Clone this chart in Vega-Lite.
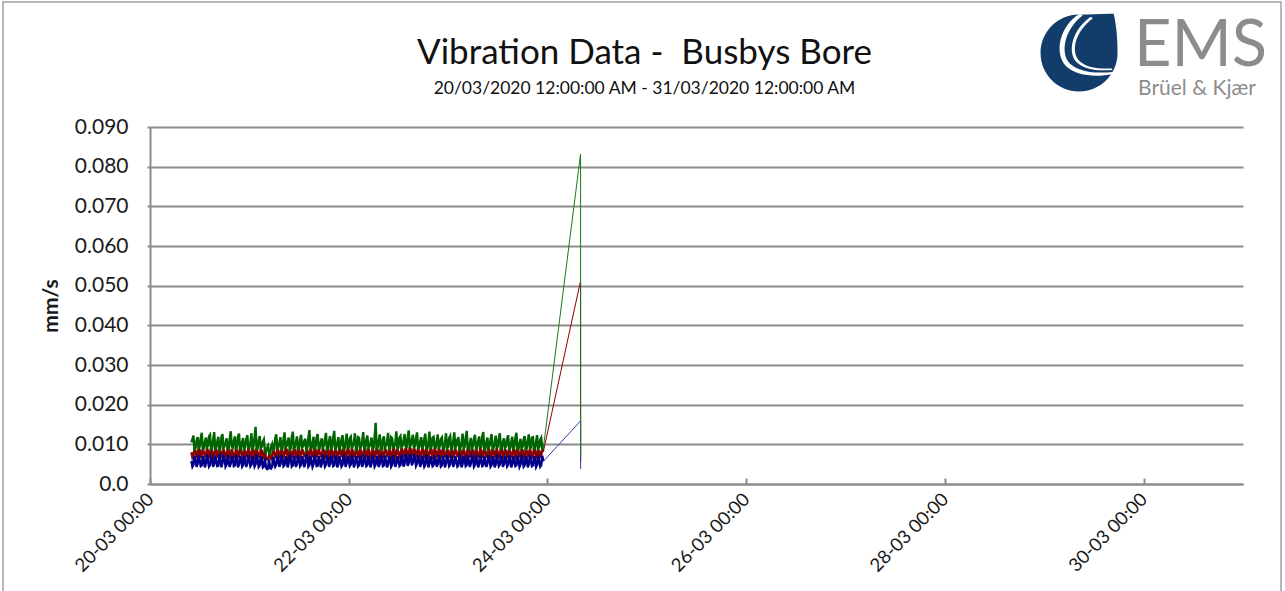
{
  "$schema": "https://vega.github.io/schema/vega-lite/v6.json",
  "width": 1093,
  "height": 357,
  "autosize": {"type": "none"},
  "padding": {"left": 150, "top": 127, "right": 42, "bottom": 107},
  "background": "white",
  "config": {
    "view": {"stroke": null},
    "font": "Lato",
    "axis": {"labelFont": "Lato", "titleFont": "Lato", "labelColor": "#1a1a1a", "titleColor": "#1a1a1a"},
    "axisY": {"labelFontSize": 21, "labelPadding": 19, "titleFontSize": 21, "titleFontWeight": "bold", "titlePadding": 13, "grid": true, "gridColor": "#8c8c8c", "gridWidth": 2, "domainColor": "#8c8c8c", "domainWidth": 2, "tickColor": "#8c8c8c", "tickWidth": 2, "tickSize": 3},
    "axisX": {"grid": false, "labelAngle": -45, "labelAlign": "right", "labelBaseline": "middle", "labelFontSize": 18.5, "labelPadding": 18, "domainColor": "#8c8c8c", "domainWidth": 2, "tickColor": "#8c8c8c", "tickWidth": 2, "tickSize": -6}
  },
  "title": {
    "text": "Vibration Data - \u00a0Busbys Bore",
    "subtitle": "20/03/2020 12:00:00 AM - 31/03/2020 12:00:00 AM",
    "font": "Lato",
    "fontSize": 35,
    "fontWeight": "normal",
    "color": "#111111",
    "subtitleFont": "Lato",
    "subtitleFontSize": 17.5,
    "subtitleColor": "#111111",
    "subtitlePadding": 9,
    "anchor": "middle",
    "frame": "group",
    "dx": -52,
    "offset": -96
  },
  "datasets": {
    "vib": [
      {"t":"2020-03-20T10:00","g":0.0105,"r":0.0080,"b":0.0058},
      {"t":"2020-03-20T10:15","g":0.0113,"r":0.0067,"b":0.0044},
      {"t":"2020-03-20T10:30","g":0.0122,"r":0.0072,"b":0.0049},
      {"t":"2020-03-20T10:45","g":0.0087,"r":0.0089,"b":0.0071},
      {"t":"2020-03-20T11:00","g":0.0091,"r":0.0084,"b":0.0062},
      {"t":"2020-03-20T11:15","g":0.0109,"r":0.0069,"b":0.0043},
      {"t":"2020-03-20T11:30","g":0.0118,"r":0.0070,"b":0.0051},
      {"t":"2020-03-20T11:45","g":0.0091,"r":0.0091,"b":0.0073},
      {"t":"2020-03-20T12:00","g":0.0094,"r":0.0086,"b":0.0060},
      {"t":"2020-03-20T12:15","g":0.0116,"r":0.0066,"b":0.0045},
      {"t":"2020-03-20T12:30","g":0.0129,"r":0.0074,"b":0.0047},
      {"t":"2020-03-20T12:45","g":0.0089,"r":0.0088,"b":0.0070},
      {"t":"2020-03-20T13:00","g":0.0090,"r":0.0081,"b":0.0063},
      {"t":"2020-03-20T13:15","g":0.0105,"r":0.0070,"b":0.0042},
      {"t":"2020-03-20T13:30","g":0.0117,"r":0.0069,"b":0.0052},
      {"t":"2020-03-20T13:45","g":0.0093,"r":0.0090,"b":0.0074},
      {"t":"2020-03-20T14:00","g":0.0096,"r":0.0085,"b":0.0059},
      {"t":"2020-03-20T14:15","g":0.0120,"r":0.0068,"b":0.0044},
      {"t":"2020-03-20T14:30","g":0.0124,"r":0.0073,"b":0.0048},
      {"t":"2020-03-20T14:45","g":0.0088,"r":0.0092,"b":0.0069},
      {"t":"2020-03-20T15:00","g":0.0089,"r":0.0082,"b":0.0064},
      {"t":"2020-03-20T15:15","g":0.0111,"r":0.0067,"b":0.0043},
      {"t":"2020-03-20T15:30","g":0.0131,"r":0.0071,"b":0.0050},
      {"t":"2020-03-20T15:45","g":0.0090,"r":0.0089,"b":0.0072},
      {"t":"2020-03-20T16:00","g":0.0093,"r":0.0087,"b":0.0058},
      {"t":"2020-03-20T16:15","g":0.0107,"r":0.0069,"b":0.0045},
      {"t":"2020-03-20T16:30","g":0.0119,"r":0.0068,"b":0.0046},
      {"t":"2020-03-20T16:45","g":0.0086,"r":0.0090,"b":0.0075},
      {"t":"2020-03-20T17:00","g":0.0090,"r":0.0083,"b":0.0061},
      {"t":"2020-03-20T17:15","g":0.0118,"r":0.0066,"b":0.0042},
      {"t":"2020-03-20T17:30","g":0.0126,"r":0.0075,"b":0.0053},
      {"t":"2020-03-20T17:45","g":0.0092,"r":0.0088,"b":0.0070},
      {"t":"2020-03-20T18:00","g":0.0095,"r":0.0080,"b":0.0065},
      {"t":"2020-03-20T18:15","g":0.0104,"r":0.0070,"b":0.0044},
      {"t":"2020-03-20T18:30","g":0.0115,"r":0.0070,"b":0.0049},
      {"t":"2020-03-20T18:45","g":0.0089,"r":0.0091,"b":0.0073},
      {"t":"2020-03-20T19:00","g":0.0088,"r":0.0085,"b":0.0057},
      {"t":"2020-03-20T19:15","g":0.0114,"r":0.0068,"b":0.0043},
      {"t":"2020-03-20T19:30","g":0.0133,"r":0.0072,"b":0.0051},
      {"t":"2020-03-20T19:45","g":0.0094,"r":0.0089,"b":0.0071},
      {"t":"2020-03-20T20:00","g":0.0092,"r":0.0079,"b":0.0062},
      {"t":"2020-03-20T20:15","g":0.0108,"r":0.0067,"b":0.0045},
      {"t":"2020-03-20T20:30","g":0.0120,"r":0.0069,"b":0.0047},
      {"t":"2020-03-20T20:45","g":0.0087,"r":0.0090,"b":0.0074},
      {"t":"2020-03-20T21:00","g":0.0094,"r":0.0084,"b":0.0060},
      {"t":"2020-03-20T21:15","g":0.0119,"r":0.0069,"b":0.0042},
      {"t":"2020-03-20T21:30","g":0.0127,"r":0.0073,"b":0.0050},
      {"t":"2020-03-20T21:45","g":0.0090,"r":0.0092,"b":0.0070},
      {"t":"2020-03-20T22:00","g":0.0089,"r":0.0086,"b":0.0063},
      {"t":"2020-03-20T22:15","g":0.0106,"r":0.0066,"b":0.0044},
      {"t":"2020-03-20T22:30","g":0.0116,"r":0.0070,"b":0.0048},
      {"t":"2020-03-20T22:45","g":0.0088,"r":0.0088,"b":0.0072},
      {"t":"2020-03-20T23:00","g":0.0093,"r":0.0081,"b":0.0059},
      {"t":"2020-03-20T23:15","g":0.0112,"r":0.0070,"b":0.0043},
      {"t":"2020-03-20T23:30","g":0.0123,"r":0.0074,"b":0.0052},
      {"t":"2020-03-20T23:45","g":0.0092,"r":0.0090,"b":0.0073},
      {"t":"2020-03-21T00:00","g":0.0091,"r":0.0083,"b":0.0061},
      {"t":"2020-03-21T00:15","g":0.0103,"r":0.0068,"b":0.0045},
      {"t":"2020-03-21T00:30","g":0.0128,"r":0.0071,"b":0.0049},
      {"t":"2020-03-21T00:45","g":0.0086,"r":0.0089,"b":0.0071},
      {"t":"2020-03-21T01:00","g":0.0095,"r":0.0086,"b":0.0058},
      {"t":"2020-03-21T01:15","g":0.0117,"r":0.0067,"b":0.0044},
      {"t":"2020-03-21T01:30","g":0.0144,"r":0.0072,"b":0.0050},
      {"t":"2020-03-21T01:45","g":0.0089,"r":0.0091,"b":0.0074},
      {"t":"2020-03-21T02:00","g":0.0090,"r":0.0080,"b":0.0062},
      {"t":"2020-03-21T02:15","g":0.0109,"r":0.0069,"b":0.0043},
      {"t":"2020-03-21T02:30","g":0.0121,"r":0.0068,"b":0.0047},
      {"t":"2020-03-21T02:45","g":0.0091,"r":0.0088,"b":0.0070},
      {"t":"2020-03-21T03:00","g":0.0094,"r":0.0084,"b":0.0059},
      {"t":"2020-03-21T03:15","g":0.0106,"r":0.0066,"b":0.0042},
      {"t":"2020-03-21T03:30","g":0.0112,"r":0.0070,"b":0.0045},
      {"t":"2020-03-21T03:45","g":0.0085,"r":0.0086,"b":0.0066},
      {"t":"2020-03-21T04:00","g":0.0080,"r":0.0066,"b":0.0042},
      {"t":"2020-03-21T04:15","g":0.0090,"r":0.0062,"b":0.0038},
      {"t":"2020-03-21T04:30","g":0.0096,"r":0.0063,"b":0.0039},
      {"t":"2020-03-21T04:45","g":0.0078,"r":0.0072,"b":0.0062},
      {"t":"2020-03-21T05:00","g":0.0076,"r":0.0068,"b":0.0041},
      {"t":"2020-03-21T05:15","g":0.0094,"r":0.0064,"b":0.0039},
      {"t":"2020-03-21T05:30","g":0.0101,"r":0.0072,"b":0.0044},
      {"t":"2020-03-21T05:45","g":0.0087,"r":0.0087,"b":0.0069},
      {"t":"2020-03-21T06:00","g":0.0088,"r":0.0080,"b":0.0055},
      {"t":"2020-03-21T06:15","g":0.0115,"r":0.0068,"b":0.0044},
      {"t":"2020-03-21T06:30","g":0.0125,"r":0.0071,"b":0.0049},
      {"t":"2020-03-21T06:45","g":0.0090,"r":0.0090,"b":0.0072},
      {"t":"2020-03-21T07:00","g":0.0092,"r":0.0085,"b":0.0061},
      {"t":"2020-03-21T07:15","g":0.0104,"r":0.0067,"b":0.0043},
      {"t":"2020-03-21T07:30","g":0.0118,"r":0.0069,"b":0.0050},
      {"t":"2020-03-21T07:45","g":0.0088,"r":0.0089,"b":0.0073},
      {"t":"2020-03-21T08:00","g":0.0089,"r":0.0082,"b":0.0063},
      {"t":"2020-03-21T08:15","g":0.0113,"r":0.0070,"b":0.0045},
      {"t":"2020-03-21T08:30","g":0.0130,"r":0.0074,"b":0.0048},
      {"t":"2020-03-21T08:45","g":0.0092,"r":0.0091,"b":0.0070},
      {"t":"2020-03-21T09:00","g":0.0096,"r":0.0087,"b":0.0060},
      {"t":"2020-03-21T09:15","g":0.0107,"r":0.0066,"b":0.0042},
      {"t":"2020-03-21T09:30","g":0.0117,"r":0.0070,"b":0.0052},
      {"t":"2020-03-21T09:45","g":0.0087,"r":0.0088,"b":0.0074},
      {"t":"2020-03-21T10:00","g":0.0090,"r":0.0081,"b":0.0064},
      {"t":"2020-03-21T10:15","g":0.0119,"r":0.0069,"b":0.0044},
      {"t":"2020-03-21T10:30","g":0.0132,"r":0.0073,"b":0.0047},
      {"t":"2020-03-21T10:45","g":0.0090,"r":0.0090,"b":0.0071},
      {"t":"2020-03-21T11:00","g":0.0093,"r":0.0086,"b":0.0058},
      {"t":"2020-03-21T11:15","g":0.0105,"r":0.0067,"b":0.0043},
      {"t":"2020-03-21T11:30","g":0.0120,"r":0.0068,"b":0.0051},
      {"t":"2020-03-21T11:45","g":0.0089,"r":0.0092,"b":0.0072},
      {"t":"2020-03-21T12:00","g":0.0088,"r":0.0083,"b":0.0062},
      {"t":"2020-03-21T12:15","g":0.0111,"r":0.0068,"b":0.0045},
      {"t":"2020-03-21T12:30","g":0.0124,"r":0.0075,"b":0.0049},
      {"t":"2020-03-21T12:45","g":0.0093,"r":0.0089,"b":0.0070},
      {"t":"2020-03-21T13:00","g":0.0095,"r":0.0080,"b":0.0060},
      {"t":"2020-03-21T13:15","g":0.0108,"r":0.0070,"b":0.0042},
      {"t":"2020-03-21T13:30","g":0.0114,"r":0.0071,"b":0.0053},
      {"t":"2020-03-21T13:45","g":0.0086,"r":0.0088,"b":0.0075},
      {"t":"2020-03-21T14:00","g":0.0091,"r":0.0085,"b":0.0065},
      {"t":"2020-03-21T14:15","g":0.0116,"r":0.0066,"b":0.0044},
      {"t":"2020-03-21T14:30","g":0.0136,"r":0.0072,"b":0.0048},
      {"t":"2020-03-21T14:45","g":0.0091,"r":0.0090,"b":0.0071},
      {"t":"2020-03-21T15:00","g":0.0089,"r":0.0082,"b":0.0059},
      {"t":"2020-03-21T15:15","g":0.0103,"r":0.0069,"b":0.0043},
      {"t":"2020-03-21T15:30","g":0.0119,"r":0.0069,"b":0.0050},
      {"t":"2020-03-21T15:45","g":0.0088,"r":0.0091,"b":0.0073},
      {"t":"2020-03-21T16:00","g":0.0094,"r":0.0087,"b":0.0063},
      {"t":"2020-03-21T16:15","g":0.0118,"r":0.0067,"b":0.0045},
      {"t":"2020-03-21T16:30","g":0.0126,"r":0.0074,"b":0.0046},
      {"t":"2020-03-21T16:45","g":0.0090,"r":0.0088,"b":0.0070},
      {"t":"2020-03-21T17:00","g":0.0090,"r":0.0080,"b":0.0061},
      {"t":"2020-03-21T17:15","g":0.0106,"r":0.0070,"b":0.0042},
      {"t":"2020-03-21T17:30","g":0.0115,"r":0.0070,"b":0.0052},
      {"t":"2020-03-21T17:45","g":0.0092,"r":0.0090,"b":0.0074},
      {"t":"2020-03-21T18:00","g":0.0096,"r":0.0084,"b":0.0058},
      {"t":"2020-03-21T18:15","g":0.0112,"r":0.0068,"b":0.0044},
      {"t":"2020-03-21T18:30","g":0.0129,"r":0.0073,"b":0.0049},
      {"t":"2020-03-21T18:45","g":0.0087,"r":0.0089,"b":0.0072},
      {"t":"2020-03-21T19:00","g":0.0088,"r":0.0086,"b":0.0064},
      {"t":"2020-03-21T19:15","g":0.0109,"r":0.0066,"b":0.0043},
      {"t":"2020-03-21T19:30","g":0.0121,"r":0.0068,"b":0.0051},
      {"t":"2020-03-21T19:45","g":0.0091,"r":0.0092,"b":0.0071},
      {"t":"2020-03-21T20:00","g":0.0093,"r":0.0081,"b":0.0060},
      {"t":"2020-03-21T20:15","g":0.0117,"r":0.0069,"b":0.0045},
      {"t":"2020-03-21T20:30","g":0.0134,"r":0.0075,"b":0.0047},
      {"t":"2020-03-21T20:45","g":0.0089,"r":0.0088,"b":0.0073},
      {"t":"2020-03-21T21:00","g":0.0091,"r":0.0083,"b":0.0062},
      {"t":"2020-03-21T21:15","g":0.0104,"r":0.0067,"b":0.0042},
      {"t":"2020-03-21T21:30","g":0.0118,"r":0.0071,"b":0.0050},
      {"t":"2020-03-21T21:45","g":0.0090,"r":0.0090,"b":0.0070},
      {"t":"2020-03-21T22:00","g":0.0095,"r":0.0087,"b":0.0059},
      {"t":"2020-03-21T22:15","g":0.0113,"r":0.0070,"b":0.0044},
      {"t":"2020-03-21T22:30","g":0.0123,"r":0.0069,"b":0.0048},
      {"t":"2020-03-21T22:45","g":0.0088,"r":0.0091,"b":0.0074},
      {"t":"2020-03-21T23:00","g":0.0089,"r":0.0082,"b":0.0063},
      {"t":"2020-03-21T23:15","g":0.0107,"r":0.0068,"b":0.0043},
      {"t":"2020-03-21T23:30","g":0.0127,"r":0.0074,"b":0.0052},
      {"t":"2020-03-21T23:45","g":0.0092,"r":0.0089,"b":0.0071},
      {"t":"2020-03-22T00:00","g":0.0092,"r":0.0085,"b":0.0060},
      {"t":"2020-03-22T00:15","g":0.0115,"r":0.0066,"b":0.0045},
      {"t":"2020-03-22T00:30","g":0.0119,"r":0.0070,"b":0.0049},
      {"t":"2020-03-22T00:45","g":0.0089,"r":0.0090,"b":0.0073},
      {"t":"2020-03-22T01:00","g":0.0096,"r":0.0083,"b":0.0062},
      {"t":"2020-03-22T01:15","g":0.0105,"r":0.0069,"b":0.0042},
      {"t":"2020-03-22T01:30","g":0.0128,"r":0.0072,"b":0.0051},
      {"t":"2020-03-22T01:45","g":0.0087,"r":0.0088,"b":0.0070},
      {"t":"2020-03-22T02:00","g":0.0090,"r":0.0086,"b":0.0058},
      {"t":"2020-03-22T02:15","g":0.0118,"r":0.0067,"b":0.0044},
      {"t":"2020-03-22T02:30","g":0.0116,"r":0.0068,"b":0.0047},
      {"t":"2020-03-22T02:45","g":0.0091,"r":0.0091,"b":0.0072},
      {"t":"2020-03-22T03:00","g":0.0094,"r":0.0081,"b":0.0064},
      {"t":"2020-03-22T03:15","g":0.0108,"r":0.0070,"b":0.0043},
      {"t":"2020-03-22T03:30","g":0.0131,"r":0.0074,"b":0.0050},
      {"t":"2020-03-22T03:45","g":0.0088,"r":0.0089,"b":0.0074},
      {"t":"2020-03-22T04:00","g":0.0089,"r":0.0087,"b":0.0061},
      {"t":"2020-03-22T04:15","g":0.0112,"r":0.0068,"b":0.0045},
      {"t":"2020-03-22T04:30","g":0.0122,"r":0.0071,"b":0.0048},
      {"t":"2020-03-22T04:45","g":0.0092,"r":0.0090,"b":0.0071},
      {"t":"2020-03-22T05:00","g":0.0095,"r":0.0082,"b":0.0059},
      {"t":"2020-03-22T05:15","g":0.0104,"r":0.0066,"b":0.0042},
      {"t":"2020-03-22T05:30","g":0.0117,"r":0.0069,"b":0.0052},
      {"t":"2020-03-22T05:45","g":0.0089,"r":0.0088,"b":0.0073},
      {"t":"2020-03-22T06:00","g":0.0091,"r":0.0084,"b":0.0063},
      {"t":"2020-03-22T06:15","g":0.0116,"r":0.0069,"b":0.0044},
      {"t":"2020-03-22T06:30","g":0.0154,"r":0.0073,"b":0.0049},
      {"t":"2020-03-22T06:45","g":0.0090,"r":0.0091,"b":0.0070},
      {"t":"2020-03-22T07:00","g":0.0093,"r":0.0086,"b":0.0060},
      {"t":"2020-03-22T07:15","g":0.0109,"r":0.0067,"b":0.0043},
      {"t":"2020-03-22T07:30","g":0.0125,"r":0.0070,"b":0.0051},
      {"t":"2020-03-22T07:45","g":0.0087,"r":0.0089,"b":0.0074},
      {"t":"2020-03-22T08:00","g":0.0088,"r":0.0080,"b":0.0062},
      {"t":"2020-03-22T08:15","g":0.0113,"r":0.0068,"b":0.0045},
      {"t":"2020-03-22T08:30","g":0.0120,"r":0.0075,"b":0.0047},
      {"t":"2020-03-22T08:45","g":0.0091,"r":0.0090,"b":0.0072},
      {"t":"2020-03-22T09:00","g":0.0096,"r":0.0085,"b":0.0058},
      {"t":"2020-03-22T09:15","g":0.0106,"r":0.0070,"b":0.0042},
      {"t":"2020-03-22T09:30","g":0.0129,"r":0.0071,"b":0.0050},
      {"t":"2020-03-22T09:45","g":0.0089,"r":0.0088,"b":0.0071},
      {"t":"2020-03-22T10:00","g":0.0090,"r":0.0083,"b":0.0064},
      {"t":"2020-03-22T10:15","g":0.0118,"r":0.0066,"b":0.0044},
      {"t":"2020-03-22T10:30","g":0.0115,"r":0.0068,"b":0.0049},
      {"t":"2020-03-22T10:45","g":0.0092,"r":0.0092,"b":0.0073},
      {"t":"2020-03-22T11:00","g":0.0094,"r":0.0087,"b":0.0061},
      {"t":"2020-03-22T11:15","g":0.0103,"r":0.0069,"b":0.0043},
      {"t":"2020-03-22T11:30","g":0.0133,"r":0.0074,"b":0.0052},
      {"t":"2020-03-22T11:45","g":0.0090,"r":0.0089,"b":0.0070},
      {"t":"2020-03-22T12:00","g":0.0092,"r":0.0081,"b":0.0059},
      {"t":"2020-03-22T12:15","g":0.0117,"r":0.0067,"b":0.0045},
      {"t":"2020-03-22T12:30","g":0.0121,"r":0.0070,"b":0.0048},
      {"t":"2020-03-22T12:45","g":0.0093,"r":0.0090,"b":0.0074},
      {"t":"2020-03-22T13:00","g":0.0097,"r":0.0086,"b":0.0063},
      {"t":"2020-03-22T13:15","g":0.0110,"r":0.0070,"b":0.0044},
      {"t":"2020-03-22T13:30","g":0.0126,"r":0.0072,"b":0.0051},
      {"t":"2020-03-22T13:45","g":0.0094,"r":0.0091,"b":0.0075},
      {"t":"2020-03-22T14:00","g":0.0093,"r":0.0084,"b":0.0066},
      {"t":"2020-03-22T14:15","g":0.0119,"r":0.0069,"b":0.0046},
      {"t":"2020-03-22T14:30","g":0.0135,"r":0.0076,"b":0.0053},
      {"t":"2020-03-22T14:45","g":0.0095,"r":0.0092,"b":0.0076},
      {"t":"2020-03-22T15:00","g":0.0098,"r":0.0088,"b":0.0067},
      {"t":"2020-03-22T15:15","g":0.0112,"r":0.0071,"b":0.0047},
      {"t":"2020-03-22T15:30","g":0.0124,"r":0.0073,"b":0.0054},
      {"t":"2020-03-22T15:45","g":0.0093,"r":0.0091,"b":0.0075},
      {"t":"2020-03-22T16:00","g":0.0095,"r":0.0085,"b":0.0065},
      {"t":"2020-03-22T16:15","g":0.0116,"r":0.0070,"b":0.0046},
      {"t":"2020-03-22T16:30","g":0.0130,"r":0.0075,"b":0.0052},
      {"t":"2020-03-22T16:45","g":0.0091,"r":0.0090,"b":0.0073},
      {"t":"2020-03-22T17:00","g":0.0092,"r":0.0083,"b":0.0062},
      {"t":"2020-03-22T17:15","g":0.0107,"r":0.0067,"b":0.0043},
      {"t":"2020-03-22T17:30","g":0.0118,"r":0.0071,"b":0.0050},
      {"t":"2020-03-22T17:45","g":0.0089,"r":0.0089,"b":0.0071},
      {"t":"2020-03-22T18:00","g":0.0096,"r":0.0086,"b":0.0060},
      {"t":"2020-03-22T18:15","g":0.0114,"r":0.0068,"b":0.0044},
      {"t":"2020-03-22T18:30","g":0.0127,"r":0.0072,"b":0.0049},
      {"t":"2020-03-22T18:45","g":0.0090,"r":0.0091,"b":0.0074},
      {"t":"2020-03-22T19:00","g":0.0090,"r":0.0082,"b":0.0063},
      {"t":"2020-03-22T19:15","g":0.0105,"r":0.0069,"b":0.0042},
      {"t":"2020-03-22T19:30","g":0.0132,"r":0.0074,"b":0.0051},
      {"t":"2020-03-22T19:45","g":0.0088,"r":0.0088,"b":0.0070},
      {"t":"2020-03-22T20:00","g":0.0094,"r":0.0087,"b":0.0058},
      {"t":"2020-03-22T20:15","g":0.0117,"r":0.0066,"b":0.0045},
      {"t":"2020-03-22T20:30","g":0.0119,"r":0.0069,"b":0.0048},
      {"t":"2020-03-22T20:45","g":0.0091,"r":0.0090,"b":0.0072},
      {"t":"2020-03-22T21:00","g":0.0091,"r":0.0083,"b":0.0061},
      {"t":"2020-03-22T21:15","g":0.0108,"r":0.0070,"b":0.0043},
      {"t":"2020-03-22T21:30","g":0.0125,"r":0.0073,"b":0.0050},
      {"t":"2020-03-22T21:45","g":0.0089,"r":0.0089,"b":0.0073},
      {"t":"2020-03-22T22:00","g":0.0095,"r":0.0085,"b":0.0062},
      {"t":"2020-03-22T22:15","g":0.0113,"r":0.0068,"b":0.0044},
      {"t":"2020-03-22T22:30","g":0.0117,"r":0.0070,"b":0.0047},
      {"t":"2020-03-22T22:45","g":0.0092,"r":0.0091,"b":0.0071},
      {"t":"2020-03-22T23:00","g":0.0089,"r":0.0081,"b":0.0059},
      {"t":"2020-03-22T23:15","g":0.0104,"r":0.0067,"b":0.0042},
      {"t":"2020-03-22T23:30","g":0.0128,"r":0.0075,"b":0.0052},
      {"t":"2020-03-22T23:45","g":0.0090,"r":0.0088,"b":0.0074},
      {"t":"2020-03-23T00:00","g":0.0093,"r":0.0084,"b":0.0060},
      {"t":"2020-03-23T00:15","g":0.0116,"r":0.0069,"b":0.0045},
      {"t":"2020-03-23T00:30","g":0.0121,"r":0.0071,"b":0.0049},
      {"t":"2020-03-23T00:45","g":0.0088,"r":0.0090,"b":0.0072},
      {"t":"2020-03-23T01:00","g":0.0090,"r":0.0086,"b":0.0062},
      {"t":"2020-03-23T01:15","g":0.0109,"r":0.0066,"b":0.0043},
      {"t":"2020-03-23T01:30","g":0.0130,"r":0.0073,"b":0.0051},
      {"t":"2020-03-23T01:45","g":0.0092,"r":0.0089,"b":0.0070},
      {"t":"2020-03-23T02:00","g":0.0096,"r":0.0082,"b":0.0058},
      {"t":"2020-03-23T02:15","g":0.0112,"r":0.0070,"b":0.0044},
      {"t":"2020-03-23T02:30","g":0.0118,"r":0.0069,"b":0.0047},
      {"t":"2020-03-23T02:45","g":0.0087,"r":0.0091,"b":0.0074},
      {"t":"2020-03-23T03:00","g":0.0091,"r":0.0085,"b":0.0063},
      {"t":"2020-03-23T03:15","g":0.0105,"r":0.0068,"b":0.0042},
      {"t":"2020-03-23T03:30","g":0.0127,"r":0.0074,"b":0.0050},
      {"t":"2020-03-23T03:45","g":0.0090,"r":0.0088,"b":0.0071},
      {"t":"2020-03-23T04:00","g":0.0094,"r":0.0080,"b":0.0061},
      {"t":"2020-03-23T04:15","g":0.0117,"r":0.0067,"b":0.0045},
      {"t":"2020-03-23T04:30","g":0.0134,"r":0.0072,"b":0.0048},
      {"t":"2020-03-23T04:45","g":0.0089,"r":0.0090,"b":0.0073},
      {"t":"2020-03-23T05:00","g":0.0089,"r":0.0087,"b":0.0059},
      {"t":"2020-03-23T05:15","g":0.0103,"r":0.0069,"b":0.0043},
      {"t":"2020-03-23T05:30","g":0.0116,"r":0.0070,"b":0.0052},
      {"t":"2020-03-23T05:45","g":0.0091,"r":0.0092,"b":0.0070},
      {"t":"2020-03-23T06:00","g":0.0095,"r":0.0083,"b":0.0064},
      {"t":"2020-03-23T06:15","g":0.0114,"r":0.0068,"b":0.0044},
      {"t":"2020-03-23T06:30","g":0.0124,"r":0.0075,"b":0.0049},
      {"t":"2020-03-23T06:45","g":0.0088,"r":0.0089,"b":0.0074},
      {"t":"2020-03-23T07:00","g":0.0090,"r":0.0081,"b":0.0060},
      {"t":"2020-03-23T07:15","g":0.0108,"r":0.0070,"b":0.0042},
      {"t":"2020-03-23T07:30","g":0.0120,"r":0.0068,"b":0.0050},
      {"t":"2020-03-23T07:45","g":0.0093,"r":0.0090,"b":0.0072},
      {"t":"2020-03-23T08:00","g":0.0093,"r":0.0086,"b":0.0062},
      {"t":"2020-03-23T08:15","g":0.0119,"r":0.0066,"b":0.0045},
      {"t":"2020-03-23T08:30","g":0.0131,"r":0.0073,"b":0.0047},
      {"t":"2020-03-23T08:45","g":0.0087,"r":0.0088,"b":0.0071},
      {"t":"2020-03-23T09:00","g":0.0088,"r":0.0082,"b":0.0058},
      {"t":"2020-03-23T09:15","g":0.0106,"r":0.0069,"b":0.0043},
      {"t":"2020-03-23T09:30","g":0.0117,"r":0.0071,"b":0.0051},
      {"t":"2020-03-23T09:45","g":0.0090,"r":0.0091,"b":0.0073},
      {"t":"2020-03-23T10:00","g":0.0096,"r":0.0085,"b":0.0063},
      {"t":"2020-03-23T10:15","g":0.0111,"r":0.0067,"b":0.0044},
      {"t":"2020-03-23T10:30","g":0.0126,"r":0.0069,"b":0.0048},
      {"t":"2020-03-23T10:45","g":0.0089,"r":0.0089,"b":0.0070},
      {"t":"2020-03-23T11:00","g":0.0091,"r":0.0084,"b":0.0061},
      {"t":"2020-03-23T11:15","g":0.0104,"r":0.0070,"b":0.0042},
      {"t":"2020-03-23T11:30","g":0.0122,"r":0.0074,"b":0.0050},
      {"t":"2020-03-23T11:45","g":0.0092,"r":0.0090,"b":0.0074},
      {"t":"2020-03-23T12:00","g":0.0094,"r":0.0080,"b":0.0059},
      {"t":"2020-03-23T12:15","g":0.0115,"r":0.0068,"b":0.0045},
      {"t":"2020-03-23T12:30","g":0.0128,"r":0.0072,"b":0.0049},
      {"t":"2020-03-23T12:45","g":0.0088,"r":0.0091,"b":0.0072},
      {"t":"2020-03-23T13:00","g":0.0089,"r":0.0087,"b":0.0062},
      {"t":"2020-03-23T13:15","g":0.0107,"r":0.0066,"b":0.0043},
      {"t":"2020-03-23T13:30","g":0.0115,"r":0.0070,"b":0.0051},
      {"t":"2020-03-23T13:45","g":0.0091,"r":0.0088,"b":0.0071},
      {"t":"2020-03-23T14:00","g":0.0095,"r":0.0083,"b":0.0060},
      {"t":"2020-03-23T14:15","g":0.0113,"r":0.0069,"b":0.0044},
      {"t":"2020-03-23T14:30","g":0.0123,"r":0.0075,"b":0.0048},
      {"t":"2020-03-23T14:45","g":0.0089,"r":0.0090,"b":0.0073},
      {"t":"2020-03-23T15:00","g":0.0090,"r":0.0081,"b":0.0063},
      {"t":"2020-03-23T15:15","g":0.0105,"r":0.0070,"b":0.0042},
      {"t":"2020-03-23T15:30","g":0.0119,"r":0.0068,"b":0.0050},
      {"t":"2020-03-23T15:45","g":0.0087,"r":0.0089,"b":0.0070},
      {"t":"2020-03-23T16:00","g":0.0093,"r":0.0086,"b":0.0058},
      {"t":"2020-03-23T16:15","g":0.0116,"r":0.0067,"b":0.0045},
      {"t":"2020-03-23T16:30","g":0.0129,"r":0.0073,"b":0.0047},
      {"t":"2020-03-23T16:45","g":0.0090,"r":0.0091,"b":0.0072},
      {"t":"2020-03-23T17:00","g":0.0088,"r":0.0082,"b":0.0061},
      {"t":"2020-03-23T17:15","g":0.0103,"r":0.0069,"b":0.0043},
      {"t":"2020-03-23T17:30","g":0.0114,"r":0.0071,"b":0.0049},
      {"t":"2020-03-23T17:45","g":0.0091,"r":0.0088,"b":0.0074},
      {"t":"2020-03-23T18:00","g":0.0094,"r":0.0085,"b":0.0060},
      {"t":"2020-03-23T18:15","g":0.0112,"r":0.0066,"b":0.0044},
      {"t":"2020-03-23T18:30","g":0.0121,"r":0.0069,"b":0.0048},
      {"t":"2020-03-23T18:45","g":0.0088,"r":0.0090,"b":0.0071},
      {"t":"2020-03-23T19:00","g":0.0090,"r":0.0083,"b":0.0062},
      {"t":"2020-03-23T19:15","g":0.0109,"r":0.0070,"b":0.0042},
      {"t":"2020-03-23T19:30","g":0.0125,"r":0.0074,"b":0.0050},
      {"t":"2020-03-23T19:45","g":0.0092,"r":0.0089,"b":0.0073},
      {"t":"2020-03-23T20:00","g":0.0092,"r":0.0080,"b":0.0059},
      {"t":"2020-03-23T20:15","g":0.0117,"r":0.0068,"b":0.0045},
      {"t":"2020-03-23T20:30","g":0.0118,"r":0.0072,"b":0.0047},
      {"t":"2020-03-23T20:45","g":0.0089,"r":0.0091,"b":0.0070},
      {"t":"2020-03-23T21:00","g":0.0089,"r":0.0086,"b":0.0061},
      {"t":"2020-03-23T21:15","g":0.0106,"r":0.0067,"b":0.0043},
      {"t":"2020-03-23T21:30","g":0.0123,"r":0.0070,"b":0.0049},
      {"t":"2020-03-23T21:45","g":0.0090,"r":0.0088,"b":0.0072},
      {"t":"2020-03-23T22:00","g":0.0093,"r":0.0082,"b":0.0058},
      {"t":"2020-03-23T22:15","g":0.0111,"r":0.0069,"b":0.0044},
      {"t":"2020-03-23T22:30","g":0.0116,"r":0.0073,"b":0.0048},
      {"t":"2020-03-23T22:45","g":0.0088,"r":0.0089,"b":0.0071},
      {"t":"2020-03-23T23:00","g":0.0090,"r":0.0081,"b":0.0057}
    ],
    "spike": [
      {"t":"2020-03-23T23:00","g":0.0090,"r":0.0081,"b":0.0057},
      {"t":"2020-03-24T08:00","g":0.0832,"r":0.0512,"b":0.0159},
      {"t":"2020-03-24T08:01","g":0.0068,"r":0.0056,"b":0.0038}
    ],
    "one": [{"k": 1}]
  },
  "layer": [
    {
      "data": {"name": "one"},
      "mark": {"type": "rect", "fill": null, "stroke": "#a0a0a0", "strokeWidth": 1.5, "clip": false},
      "encoding": {
        "x": {"datum": {"year": 2020, "month": 3, "date": 18, "hours": 12, "minutes": 30}, "type": "temporal", "title": null,
              "scale": {"domain": [{"year": 2020, "month": 3, "date": 20}, {"year": 2020, "month": 3, "date": 31}], "nice": false},
              "axis": {"values": [{"year": 2020, "month": 3, "date": 20}, {"year": 2020, "month": 3, "date": 22}, {"year": 2020, "month": 3, "date": 24}, {"year": 2020, "month": 3, "date": 26}, {"year": 2020, "month": 3, "date": 28}, {"year": 2020, "month": 3, "date": 30}], "format": "%d-%m %H:%M"}},
        "x2": {"datum": {"year": 2020, "month": 3, "date": 31, "hours": 9, "minutes": 11}},
        "y": {"datum": 0.1215, "type": "quantitative", "title": "mm/s",
              "scale": {"domain": [0, 0.09], "nice": false},
              "axis": {"values": [0, 0.01, 0.02, 0.03, 0.04, 0.05, 0.06, 0.07, 0.08, 0.09], "labelExpr": "datum.value == 0 ? '0.0' : format(datum.value, '.3f')"}},
        "y2": {"datum": -0.05}
      }
    },
    {
      "data": {"name": "vib"},
      "mark": {"type": "line", "color": "#8b0000", "strokeWidth": 2.4},
      "encoding": {
        "x": {"field": "t", "type": "temporal", "title": null,
              "scale": {"domain": [{"year": 2020, "month": 3, "date": 20}, {"year": 2020, "month": 3, "date": 31}], "nice": false},
              "axis": {"values": [{"year": 2020, "month": 3, "date": 20}, {"year": 2020, "month": 3, "date": 22}, {"year": 2020, "month": 3, "date": 24}, {"year": 2020, "month": 3, "date": 26}, {"year": 2020, "month": 3, "date": 28}, {"year": 2020, "month": 3, "date": 30}], "format": "%d-%m %H:%M"}},
        "y": {"field": "r", "type": "quantitative", "title": "mm/s",
              "scale": {"domain": [0, 0.09], "nice": false},
              "axis": {"values": [0, 0.01, 0.02, 0.03, 0.04, 0.05, 0.06, 0.07, 0.08, 0.09], "labelExpr": "datum.value == 0 ? '0.0' : format(datum.value, '.3f')"}}
      }
    },
    {
      "data": {"name": "vib"},
      "mark": {"type": "line", "color": "#00008b", "strokeWidth": 2.4},
      "encoding": {
        "x": {"field": "t", "type": "temporal", "title": null,
              "scale": {"domain": [{"year": 2020, "month": 3, "date": 20}, {"year": 2020, "month": 3, "date": 31}], "nice": false},
              "axis": {"values": [{"year": 2020, "month": 3, "date": 20}, {"year": 2020, "month": 3, "date": 22}, {"year": 2020, "month": 3, "date": 24}, {"year": 2020, "month": 3, "date": 26}, {"year": 2020, "month": 3, "date": 28}, {"year": 2020, "month": 3, "date": 30}], "format": "%d-%m %H:%M"}},
        "y": {"field": "b", "type": "quantitative", "title": "mm/s",
              "scale": {"domain": [0, 0.09], "nice": false},
              "axis": {"values": [0, 0.01, 0.02, 0.03, 0.04, 0.05, 0.06, 0.07, 0.08, 0.09], "labelExpr": "datum.value == 0 ? '0.0' : format(datum.value, '.3f')"}}
      }
    },
    {
      "data": {"name": "vib"},
      "mark": {"type": "line", "color": "#006400", "strokeWidth": 2.4},
      "encoding": {
        "x": {"field": "t", "type": "temporal", "title": null,
              "scale": {"domain": [{"year": 2020, "month": 3, "date": 20}, {"year": 2020, "month": 3, "date": 31}], "nice": false},
              "axis": {"values": [{"year": 2020, "month": 3, "date": 20}, {"year": 2020, "month": 3, "date": 22}, {"year": 2020, "month": 3, "date": 24}, {"year": 2020, "month": 3, "date": 26}, {"year": 2020, "month": 3, "date": 28}, {"year": 2020, "month": 3, "date": 30}], "format": "%d-%m %H:%M"}},
        "y": {"field": "g", "type": "quantitative", "title": "mm/s",
              "scale": {"domain": [0, 0.09], "nice": false},
              "axis": {"values": [0, 0.01, 0.02, 0.03, 0.04, 0.05, 0.06, 0.07, 0.08, 0.09], "labelExpr": "datum.value == 0 ? '0.0' : format(datum.value, '.3f')"}}
      }
    },
    {
      "data": {"name": "spike"},
      "mark": {"type": "line", "color": "#8b0000", "strokeWidth": 1},
      "encoding": {
        "x": {"field": "t", "type": "temporal", "title": null,
              "scale": {"domain": [{"year": 2020, "month": 3, "date": 20}, {"year": 2020, "month": 3, "date": 31}], "nice": false},
              "axis": {"values": [{"year": 2020, "month": 3, "date": 20}, {"year": 2020, "month": 3, "date": 22}, {"year": 2020, "month": 3, "date": 24}, {"year": 2020, "month": 3, "date": 26}, {"year": 2020, "month": 3, "date": 28}, {"year": 2020, "month": 3, "date": 30}], "format": "%d-%m %H:%M"}},
        "y": {"field": "r", "type": "quantitative", "title": "mm/s",
              "scale": {"domain": [0, 0.09], "nice": false},
              "axis": {"values": [0, 0.01, 0.02, 0.03, 0.04, 0.05, 0.06, 0.07, 0.08, 0.09], "labelExpr": "datum.value == 0 ? '0.0' : format(datum.value, '.3f')"}}
      }
    },
    {
      "data": {"name": "spike"},
      "mark": {"type": "line", "color": "#3a3aa8", "strokeWidth": 1},
      "encoding": {
        "x": {"field": "t", "type": "temporal", "title": null,
              "scale": {"domain": [{"year": 2020, "month": 3, "date": 20}, {"year": 2020, "month": 3, "date": 31}], "nice": false},
              "axis": {"values": [{"year": 2020, "month": 3, "date": 20}, {"year": 2020, "month": 3, "date": 22}, {"year": 2020, "month": 3, "date": 24}, {"year": 2020, "month": 3, "date": 26}, {"year": 2020, "month": 3, "date": 28}, {"year": 2020, "month": 3, "date": 30}], "format": "%d-%m %H:%M"}},
        "y": {"field": "b", "type": "quantitative", "title": "mm/s",
              "scale": {"domain": [0, 0.09], "nice": false},
              "axis": {"values": [0, 0.01, 0.02, 0.03, 0.04, 0.05, 0.06, 0.07, 0.08, 0.09], "labelExpr": "datum.value == 0 ? '0.0' : format(datum.value, '.3f')"}}
      }
    },
    {
      "data": {"name": "spike"},
      "mark": {"type": "line", "color": "#1a7a1a", "strokeWidth": 1},
      "encoding": {
        "x": {"field": "t", "type": "temporal", "title": null,
              "scale": {"domain": [{"year": 2020, "month": 3, "date": 20}, {"year": 2020, "month": 3, "date": 31}], "nice": false},
              "axis": {"values": [{"year": 2020, "month": 3, "date": 20}, {"year": 2020, "month": 3, "date": 22}, {"year": 2020, "month": 3, "date": 24}, {"year": 2020, "month": 3, "date": 26}, {"year": 2020, "month": 3, "date": 28}, {"year": 2020, "month": 3, "date": 30}], "format": "%d-%m %H:%M"}},
        "y": {"field": "g", "type": "quantitative", "title": "mm/s",
              "scale": {"domain": [0, 0.09], "nice": false},
              "axis": {"values": [0, 0.01, 0.02, 0.03, 0.04, 0.05, 0.06, 0.07, 0.08, 0.09], "labelExpr": "datum.value == 0 ? '0.0' : format(datum.value, '.3f')"}}
      }
    },
    {
      "data": {"name": "one"},
      "mark": {
        "type": "point", "filled": true, "opacity": 1, "color": "#123d6b", "size": 5929, "clip": false,
        "shape": "M0,-1 C-0.5523,-1 -1,-0.5523 -1,0 C-1,0.5523 -0.5523,1 0,1 C0.5523,1 1,0.5523 1,0 C1,-0.45 0.96,-0.75 0.9,-1.02 C0.6,-1.03 0.3,-1 0,-1 Z"
      },
      "encoding": {
        "x": {"datum": {"year": 2020, "month": 3, "date": 29, "hours": 8, "minutes": 24}, "type": "temporal", "title": null,
              "scale": {"domain": [{"year": 2020, "month": 3, "date": 20}, {"year": 2020, "month": 3, "date": 31}], "nice": false},
              "axis": {"values": [{"year": 2020, "month": 3, "date": 20}, {"year": 2020, "month": 3, "date": 22}, {"year": 2020, "month": 3, "date": 24}, {"year": 2020, "month": 3, "date": 26}, {"year": 2020, "month": 3, "date": 28}, {"year": 2020, "month": 3, "date": 30}], "format": "%d-%m %H:%M"}},
        "y": {"datum": 0.10865, "type": "quantitative", "title": "mm/s",
              "scale": {"domain": [0, 0.09], "nice": false},
              "axis": {"values": [0, 0.01, 0.02, 0.03, 0.04, 0.05, 0.06, 0.07, 0.08, 0.09], "labelExpr": "datum.value == 0 ? '0.0' : format(datum.value, '.3f')"}}
      }
    },
    {
      "data": {"name": "one"},
      "mark": {
        "type": "point", "filled": true, "opacity": 1, "color": "white", "size": 5929, "clip": false,
        "shape": "M0.02,-1.02 C-0.5,-0.72 -0.66,0.0 -0.34,0.34 C-0.05,0.62 0.45,0.62 0.88,0.55 L0.88,0.49 C0.45,0.54 0.0,0.5 -0.24,0.27 C-0.5,0.0 -0.38,-0.62 0.1,-0.98 Z M0.3,-0.94 C-0.15,-0.62 -0.3,-0.1 -0.1,0.2 C0.1,0.44 0.5,0.47 0.86,0.44 L0.86,0.4 C0.5,0.42 0.15,0.38 -0.03,0.16 C-0.2,-0.08 -0.1,-0.55 0.36,-0.9 Z"
      },
      "encoding": {
        "x": {"datum": {"year": 2020, "month": 3, "date": 29, "hours": 8, "minutes": 24}, "type": "temporal", "title": null,
              "scale": {"domain": [{"year": 2020, "month": 3, "date": 20}, {"year": 2020, "month": 3, "date": 31}], "nice": false},
              "axis": {"values": [{"year": 2020, "month": 3, "date": 20}, {"year": 2020, "month": 3, "date": 22}, {"year": 2020, "month": 3, "date": 24}, {"year": 2020, "month": 3, "date": 26}, {"year": 2020, "month": 3, "date": 28}, {"year": 2020, "month": 3, "date": 30}], "format": "%d-%m %H:%M"}},
        "y": {"datum": 0.10865, "type": "quantitative", "title": "mm/s",
              "scale": {"domain": [0, 0.09], "nice": false},
              "axis": {"values": [0, 0.01, 0.02, 0.03, 0.04, 0.05, 0.06, 0.07, 0.08, 0.09], "labelExpr": "datum.value == 0 ? '0.0' : format(datum.value, '.3f')"}}
      }
    },
    {
      "data": {"name": "one"},
      "mark": {"type": "text", "text": "EMS", "font": "Lato", "fontSize": 65, "color": "#8c8c8c", "align": "left", "baseline": "alphabetic", "clip": false},
      "encoding": {
        "x": {"datum": {"year": 2020, "month": 3, "date": 29, "hours": 21, "minutes": 40}, "type": "temporal", "title": null,
              "scale": {"domain": [{"year": 2020, "month": 3, "date": 20}, {"year": 2020, "month": 3, "date": 31}], "nice": false},
              "axis": {"values": [{"year": 2020, "month": 3, "date": 20}, {"year": 2020, "month": 3, "date": 22}, {"year": 2020, "month": 3, "date": 24}, {"year": 2020, "month": 3, "date": 26}, {"year": 2020, "month": 3, "date": 28}, {"year": 2020, "month": 3, "date": 30}], "format": "%d-%m %H:%M"}},
        "y": {"datum": 0.10538, "type": "quantitative", "title": "mm/s",
              "scale": {"domain": [0, 0.09], "nice": false},
              "axis": {"values": [0, 0.01, 0.02, 0.03, 0.04, 0.05, 0.06, 0.07, 0.08, 0.09], "labelExpr": "datum.value == 0 ? '0.0' : format(datum.value, '.3f')"}}
      }
    },
    {
      "data": {"name": "one"},
      "mark": {"type": "text", "text": "Brüel & Kjær", "font": "Lato", "fontSize": 21, "color": "#8c8c8c", "align": "left", "baseline": "alphabetic", "clip": false},
      "encoding": {
        "x": {"datum": {"year": 2020, "month": 3, "date": 29, "hours": 22, "minutes": 39}, "type": "temporal", "title": null,
              "scale": {"domain": [{"year": 2020, "month": 3, "date": 20}, {"year": 2020, "month": 3, "date": 31}], "nice": false},
              "axis": {"values": [{"year": 2020, "month": 3, "date": 20}, {"year": 2020, "month": 3, "date": 22}, {"year": 2020, "month": 3, "date": 24}, {"year": 2020, "month": 3, "date": 26}, {"year": 2020, "month": 3, "date": 28}, {"year": 2020, "month": 3, "date": 30}], "format": "%d-%m %H:%M"}},
        "y": {"datum": 0.09807, "type": "quantitative", "title": "mm/s",
              "scale": {"domain": [0, 0.09], "nice": false},
              "axis": {"values": [0, 0.01, 0.02, 0.03, 0.04, 0.05, 0.06, 0.07, 0.08, 0.09], "labelExpr": "datum.value == 0 ? '0.0' : format(datum.value, '.3f')"}}
      }
    }
  ]
}
